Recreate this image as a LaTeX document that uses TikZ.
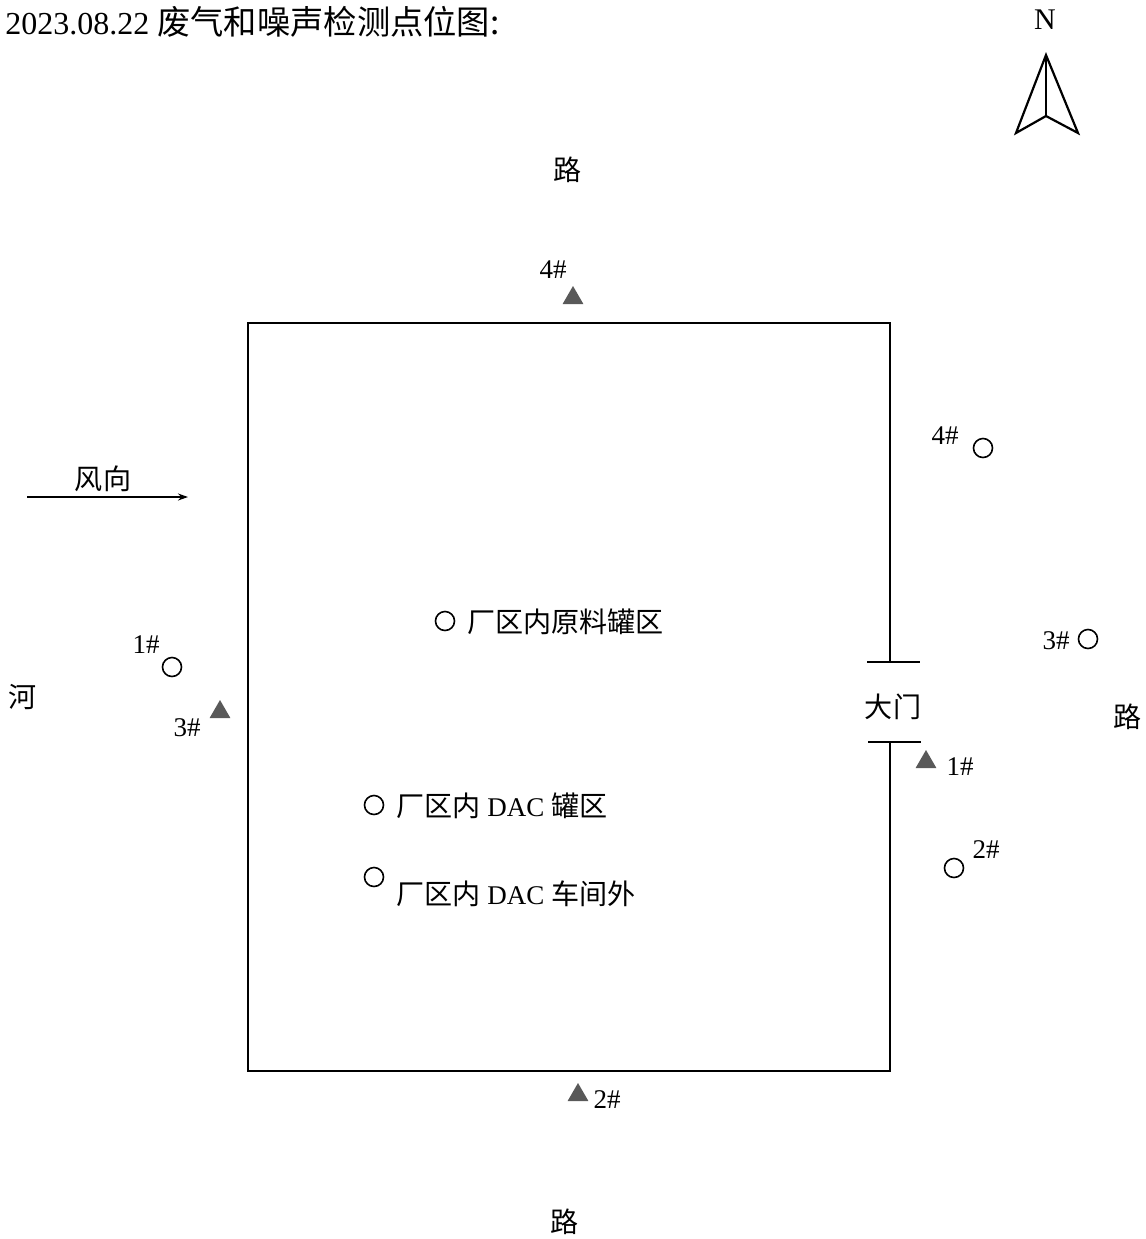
\documentclass[tikz,border=0pt]{standalone}
\usepackage{fontspec}
\setmainfont{Liberation Serif}
\newfontfamily\cjk[Scale=1.04]{Noto Sans CJK SC}
\usetikzlibrary{arrows.meta,shapes.geometric}
\begin{document}
\begin{tikzpicture}[x=0.5pt,y=-0.5pt,
  lbl/.style={font=\fontsize{13.5}{16}\selectfont, inner sep=0},
  ttl/.style={font=\fontsize{16}{19}\selectfont, inner sep=0},
  wall/.style={line width=1pt},
  circ/.style={circle, draw, line width=0.8pt, minimum size=9.5pt, inner sep=0},
  tri/.style={regular polygon, regular polygon sides=3, fill=black!65, minimum size=12pt, inner sep=0},
  bar/.style={line width=1pt}]
\useasboundingbox (0,0) rectangle (1146,1239);
% title
\node[ttl, anchor=west] (title) at (5,22) {2023.08.22 {\cjk 废气和噪声检测点位图:}};
% north arrow
\node[lbl, font=\fontsize{15}{18}\selectfont] (N) at (1045,20) {N};
\coordinate (na) at (1046,55);
\coordinate (nl) at (1016,133);
\coordinate (nr) at (1078,133);
\coordinate (nn) at (1046,116);
\draw[line width=1.1pt, line join=miter] (na) -- (nl) -- (nn) -- (nr) -- cycle;
\draw[line width=1.1pt] (na) -- (nn);
% plant boundary
\coordinate (g1) at (890,662);
\coordinate (tr) at (890,323);
\coordinate (tl) at (248,323);
\coordinate (bl) at (248,1071);
\coordinate (br) at (890,1071);
\coordinate (g2) at (890,742);
\draw[wall] (g1) -- (tr) -- (tl) -- (bl) -- (br) -- (g2);
\coordinate (b1a) at (867,662); \coordinate (b1b) at (920,662);
\coordinate (b2a) at (868,742); \coordinate (b2b) at (921,742);
\draw[bar] (b1a) -- (b1b);
\draw[bar] (b2a) -- (b2b);
\node[lbl] (gate) at (893,707) {\cjk 大门};
% roads, river
\node[lbl] (roadN) at (568,170) {\cjk 路};
\node[lbl] (roadE) at (1128,717) {\cjk 路};
\node[lbl] (roadS) at (565,1222) {\cjk 路};
\node[lbl] (river) at (23,697) {\cjk 河};
% wind
\node[lbl] (wind) at (103,479) {\cjk 风向};
\coordinate (w1) at (27,497);
\coordinate (w2) at (188,497);
\draw[line width=0.6pt, -{Stealth[length=5pt,width=3.5pt]}] (w1) -- (w2);
% noise points (triangles)
\node[tri] (t4) at (573,298) {};
\node[lbl] (t4l) at (553,270) {4\#};
\node[tri] (t3) at (220,712) {};
\node[lbl] (t3l) at (187,728) {3\#};
\node[tri] (t1) at (926,762) {};
\node[lbl] (t1l) at (960,767) {1\#};
\node[tri] (t2) at (578,1095) {};
\node[lbl] (t2l) at (607,1100) {2\#};
% gas points (circles)
\node[circ] (c4) at (983,448) {};
\node[lbl] (c4l) at (945,436) {4\#};
\node[circ] (c1) at (172,667) {};
\node[lbl] (c1l) at (146,645) {1\#};
\node[circ] (c3) at (1088,639) {};
\node[lbl] (c3l) at (1056,641) {3\#};
\node[circ] (c2) at (954,868) {};
\node[lbl] (c2l) at (986,850) {2\#};
\node[circ] (ca) at (445,621) {};
\node[lbl, anchor=west] (cal) at (467,622) {\cjk 厂区内原料罐区};
\node[circ] (cb) at (374,805) {};
\node[lbl, anchor=west] (cbl) at (396,806) {{\cjk 厂区内} DAC {\cjk 罐区}};
\node[circ] (cc) at (374,877) {};
\node[lbl, anchor=west] (ccl) at (396,894) {{\cjk 厂区内} DAC {\cjk 车间外}};
\end{tikzpicture}
\end{document}
